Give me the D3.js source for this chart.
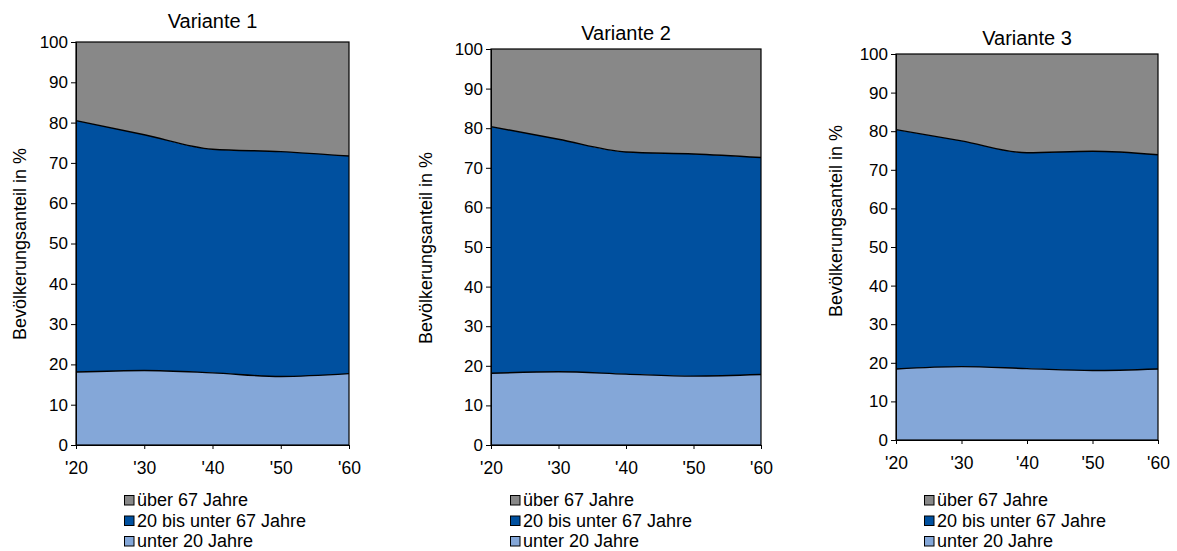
<!DOCTYPE html>
<html><head><meta charset="utf-8">
<script src="https://cdn.jsdelivr.net/npm/d3@7"></script>
<style>
html,body{margin:0;padding:0;background:#fff;}
svg{display:block;font-family:"Liberation Sans",Arial,sans-serif;}
</style></head>
<body>
<svg id="c" width="1177" height="551"></svg>
<script>
const years = ["'20","'30","'40","'50","'60"];
const yTicks = [0,10,20,30,40,50,60,70,80,90,100];
const seriesNames = ["über 67 Jahre","20 bis unter 67 Jahre","unter 20 Jahre"];
const titles = ["Variante 1","Variante 2","Variante 3"];
const yLabel = "Bevölkerungsanteil in %";
// share under 20 (%)
const under20_v1 = [18.1,18.5,17.9,17.0,17.7];
const under20_v2 = [18.1,18.5,17.9,17.4,17.8];
const under20_v3 = [18.4,19.0,18.5,18.0,18.4];
// share 20 to under 67 (%)
const mid_v1 = [62.4,58.5,55.5,55.8,54.0];
const mid_v2 = [62.3,58.7,56.1,56.1,54.8];
const mid_v3 = [62.0,58.5,55.9,56.8,55.5];
// share over 67 (%)
const over67_v1 = [19.5,23.0,26.6,27.2,28.3];
const over67_v2 = [19.6,22.8,26.0,26.5,27.4];
const over67_v3 = [19.6,22.5,25.6,25.2,26.1];

const colors = {"unter 20 Jahre":"#84a7d8","20 bis unter 67 Jahre":"#00509f","über 67 Jahre":"#888888"};

const variants = [
  {u:under20_v1,m:mid_v1,o:over67_v1},
  {u:under20_v2,m:mid_v2,o:over67_v2},
  {u:under20_v3,m:mid_v3,o:over67_v3}
];
const layouts = [
  {l:76,r:349,t:42,b:445,titleY:28,ylabX:20,ylabY:244,legX:124,legY:500,xlabY:474},
  {l:491,r:761,t:49,b:445,titleY:40,ylabX:426,ylabY:248,legX:510,legY:500,xlabY:474},
  {l:896,r:1158,t:54,b:440,titleY:45,ylabX:836,ylabY:221,legX:924,legY:500,xlabY:469}
];

const svg = d3.select("#c");

variants.forEach((v,i)=>{
  const L = layouts[i];
  const x = d3.scalePoint().domain(years).range([L.l,L.r]);
  const y = d3.scaleLinear().domain([0,100]).range([L.b,L.t]);
  const data = years.map((yr,k)=>({yr, "unter 20 Jahre":v.u[k], "20 bis unter 67 Jahre":v.m[k], "über 67 Jahre":v.o[k]}));
  const stack = d3.stack().keys(["unter 20 Jahre","20 bis unter 67 Jahre","über 67 Jahre"])
    .value((d,key)=>d[key]);
  const layers = stack(data);
  const g = svg.append("g");
  const curve = d3.curveMonotoneX;
  const area = d3.area().curve(curve)
    .x(d=>x(d.data.yr)).y0(d=>y(d[0])).y1(d=>y(Math.min(100,d[1])));
  g.selectAll("path.a").data(layers).join("path")
    .attr("class","a")
    .attr("fill",d=>colors[d.key])
    .attr("d",area);
  const line = d3.line().curve(curve).x(d=>x(d.data.yr)).y(d=>y(d[1]));
  g.selectAll("path.l").data(layers.slice(0,2)).join("path")
    .attr("class","l").attr("fill","none").attr("stroke","#000").attr("stroke-width",1.4)
    .attr("d",line);
  // frame
  g.append("rect").attr("x",L.l).attr("y",L.t).attr("width",L.r-L.l).attr("height",L.b-L.t)
    .attr("fill","none").attr("stroke","#000").attr("stroke-width",1.2);
  // axes
  const ya = g.append("g").attr("transform",`translate(${L.l},0)`)
    .call(d3.axisLeft(y).tickValues(yTicks).tickSize(5).tickPadding(3));
  ya.select(".domain").attr("stroke","#000");
  ya.selectAll("line").attr("stroke","#000");
  ya.selectAll("text").attr("font-size",17).attr("fill","#000").attr("font-family","Liberation Sans, Arial");
  const xa = g.append("g").attr("transform",`translate(0,${L.b})`)
    .call(d3.axisBottom(x).tickSize(4).tickPadding(0));
  xa.select(".domain").attr("stroke","#000");
  xa.selectAll("line").attr("stroke","#000");
  xa.selectAll("text").attr("font-size",17.5).attr("fill","#000").attr("font-family","Liberation Sans, Arial")
    .attr("dy",null)
    .each(function(){ d3.select(this).attr("y", L.xlabY - L.b); });
  // title
  g.append("text").attr("x",(L.l+L.r)/2).attr("y",L.titleY).attr("text-anchor","middle")
    .attr("font-size",20).text(titles[i]);
  // y label
  g.append("text").attr("transform",`translate(${L.ylabX},${L.ylabY}) rotate(-90)`)
    .attr("text-anchor","middle").attr("dy","0.35em").attr("font-size",18).text(yLabel);
  // legend
  seriesNames.forEach((n,k)=>{
    const yy = L.legY + k*20.5;
    g.append("rect").attr("x",L.legX+0.5).attr("y",yy-4.5).attr("width",9.5).attr("height",9.5)
      .attr("fill",colors[n]).attr("stroke","#000").attr("stroke-width",1);
    g.append("text").attr("x",L.legX+13).attr("y",yy+6).attr("font-size",18).text(n);
  });
});
</script>
</body></html>
